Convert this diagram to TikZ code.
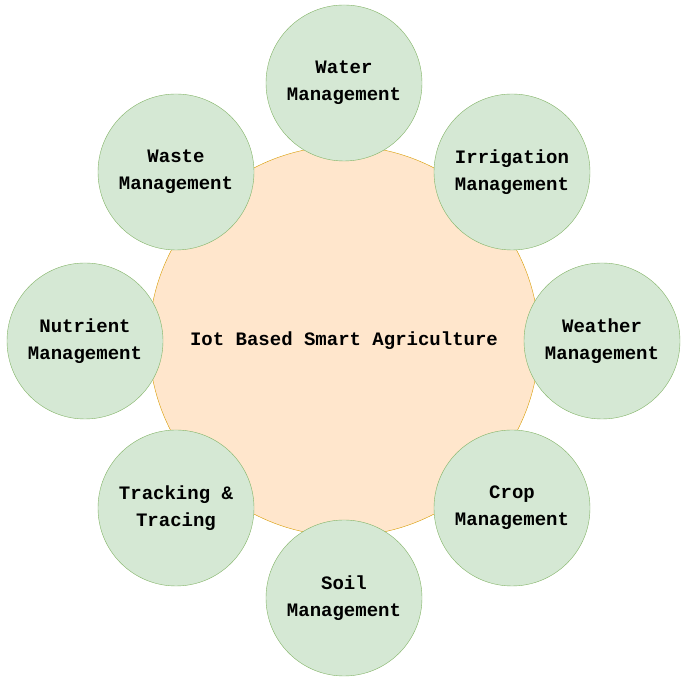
\documentclass[tikz,border=0pt]{standalone}
\usepackage{fontspec}
\setmonofont{Liberation Mono}
\usetikzlibrary{positioning}
\definecolor{leaffill}{HTML}{D5E8D4}
\definecolor{leafline}{HTML}{82B366}
\definecolor{corefill}{HTML}{FFE6CC}
\definecolor{coreline}{HTML}{D79B00}
\tikzset{
    topic/.style={circle,draw=leafline,fill=leaffill,minimum size=156pt,inner sep=0pt,
                  align=center,font=\fontsize{19}{27}\selectfont\ttfamily\bfseries},
    core/.style={circle,draw=coreline,fill=corefill,minimum size=390pt,inner sep=0pt,
                 font=\fontsize{19}{27}\selectfont\ttfamily\bfseries}
}
\begin{document}
\begin{tikzpicture}[x=1pt,y=1pt]
    \useasboundingbox (0,0) rectangle (688,684);
    % Centre
    \node[core] (hub) at (344,343) {Iot Based Smart Agriculture};

    % Surrounding topics
    \node[topic] (water)  at (344,601) {Water\\Management};
    \node[topic] (irrig)  at (512,512) {Irrigation\\Management};
    \node[topic] (weath)  at (602,343) {Weather\\Management};
    \node[topic] (crop)   at (512,176) {Crop\\Management};
    \node[topic] (soil)   at (344,86)  {Soil\\Management};
    \node[topic] (track)  at (176,176) {Tracking \&\\Tracing};
    \node[topic] (nutri)  at (85,343)  {Nutrient\\Management};
    \node[topic] (waste)  at (176,512) {Waste\\Management};
\end{tikzpicture}
\end{document}
